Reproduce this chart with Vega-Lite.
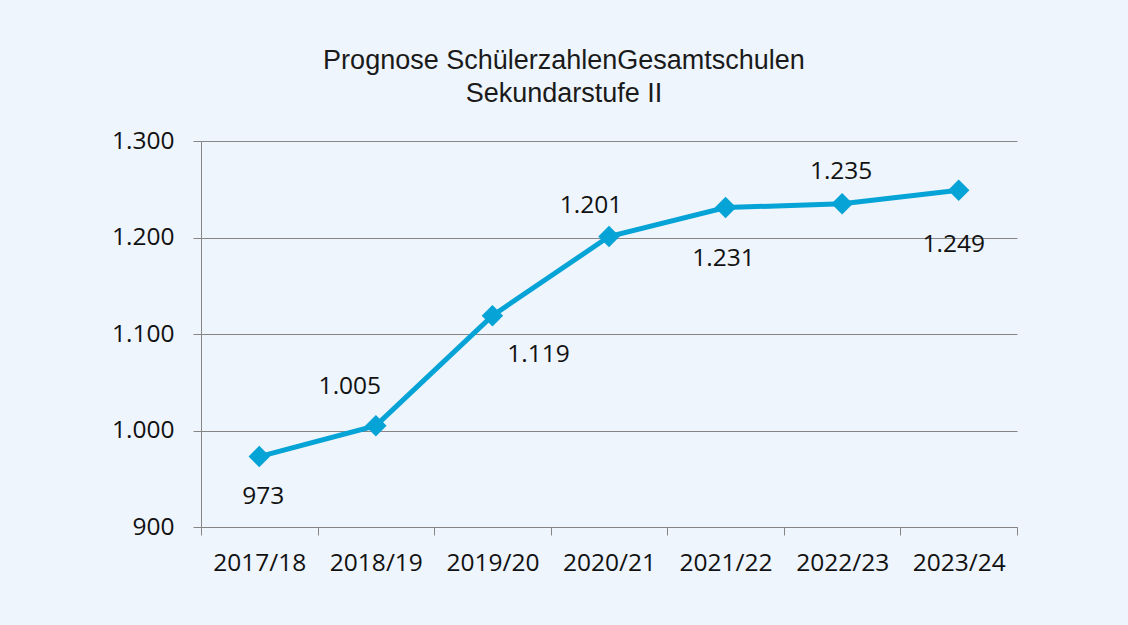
{
  "$schema": "https://vega.github.io/schema/vega-lite/v6.json",
  "width": 816,
  "height": 386,
  "autosize": {"type": "none"},
  "padding": {"left": 201, "top": 141, "right": 111, "bottom": 98},
  "background": "#EEF5FC",
  "title": {
    "text": ["Prognose SchülerzahlenGesamtschulen", "Sekundarstufe II"],
    "font": "Liberation Sans",
    "fontSize": 27,
    "fontWeight": "normal",
    "color": "#1a1a1a",
    "anchor": "middle",
    "dx": -45,
    "offset": 20,
    "lineHeight": 33
  },
  "config": {
    "view": {"stroke": null},
    "locale": {"number": {"decimal": ",", "thousands": ".", "grouping": [3], "currency": ["", " €"]}}
  },
  "data": {
    "values": [
      {"jahr": "2017/18", "wert": 973},
      {"jahr": "2018/19", "wert": 1005},
      {"jahr": "2019/20", "wert": 1119},
      {"jahr": "2020/21", "wert": 1201},
      {"jahr": "2021/22", "wert": 1231},
      {"jahr": "2022/23", "wert": 1235},
      {"jahr": "2023/24", "wert": 1249}
    ]
  },
  "encoding": {
    "x": {
      "field": "jahr",
      "type": "ordinal",
      "bandPosition": 0.5,
      "scale": {"type": "band", "paddingInner": 0, "paddingOuter": 0},
      "axis": {
        "title": null,
        "labelAngle": 0,
        "labelFont": "Open Sans",
        "labelFontSize": 24.5,
        "labelColor": "#111111",
        "labelPadding": 16,
        "tickBand": "extent",
        "tickSize": 8,
        "tickColor": "#868686",
        "domainColor": "#868686",
        "grid": false
      }
    },
    "y": {
      "field": "wert",
      "type": "quantitative",
      "scale": {"domain": [900, 1300], "nice": false, "zero": false},
      "axis": {
        "title": null,
        "values": [900, 1000, 1100, 1200, 1300],
        "format": ",.0f",
        "labelFont": "Open Sans",
        "labelFontSize": 24.5,
        "labelColor": "#111111",
        "labelPadding": 19,
        "tickSize": 8,
        "tickColor": "#868686",
        "domainColor": "#868686",
        "grid": true,
        "gridColor": "#868686"
      }
    }
  },
  "layer": [
    {"mark": {"type": "line", "color": "#06A3D6", "strokeWidth": 5}},
    {"mark": {"type": "point", "shape": "diamond", "filled": true, "size": 460, "color": "#06A3D6", "opacity": 1}},
    {
      "mark": {
        "type": "text",
        "font": "Open Sans",
        "fontSize": 24.5,
        "color": "#111111",
        "baseline": "middle",
        "align": "center",
        "dx": {"expr": "[4,-26,46,-18,-2,-1,-5][indexof(['2017/18','2018/19','2019/20','2020/21','2021/22','2022/23','2023/24'], datum.jahr)]"},
        "dy": {"expr": "[40,-39,39,-31,51,-32,55][indexof(['2017/18','2018/19','2019/20','2020/21','2021/22','2022/23','2023/24'], datum.jahr)]"}
      },
      "encoding": {"text": {"field": "wert", "type": "quantitative", "format": ",.0f"}}
    }
  ]
}
